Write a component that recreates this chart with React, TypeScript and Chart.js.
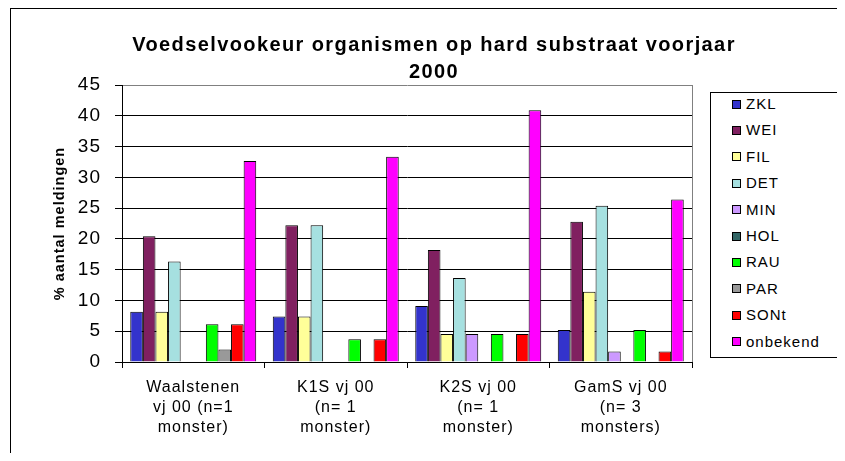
import React, { useEffect, useRef } from 'react';
import { Chart, registerables } from 'chart.js';

Chart.register(...registerables);

const titleLines = ['Voedselvookeur organismen op hard substraat voorjaar', '2000'];
const yAxisTitle = '% aantal meldingen';

const categories: string[][] = [
  ['Waalstenen', 'vj 00 (n=1', 'monster)'],
  ['K1S vj 00', '(n= 1', 'monster)'],
  ['K2S vj 00', '(n= 1', 'monster)'],
  ['GamS vj 00', '(n= 3', 'monsters)'],
];

const seriesNames = ['ZKL', 'WEI', 'FIL', 'DET', 'MIN', 'HOL', 'RAU', 'PAR', 'SONt', 'onbekend'];
const seriesColors = ['#3333CC', '#802060', '#FFFF99', '#A6E0E0', '#CC99FF', '#336666', '#00FF00', '#999999', '#FF0000', '#FF00FF'];

const ZKL = [8.16, 7.41, 9.09, 5.2];
const WEI = [20.41, 22.22, 18.18, 22.8];
const FIL = [8.16, 7.41, 4.55, 11.4];
const DET = [16.33, 22.22, 13.64, 25.4];
const MIN = [0, 0, 4.55, 1.7];
const HOL = [0, 0, 0, 0];
const RAU = [6.12, 3.7, 4.55, 5.2];
const PAR = [2.04, 0, 0, 0];
const SONt = [6.12, 3.7, 4.55, 1.7];
const onbekend = [32.65, 33.33, 40.91, 26.4];

const seriesValues = [ZKL, WEI, FIL, DET, MIN, HOL, RAU, PAR, SONt, onbekend];

const yMin = 0;
const yMax = 45;
const yStep = 5;

const FONT = 'Arial, "Liberation Sans", Helvetica, sans-serif';

const spacingPlugin = {
  id: 'spacing',
  beforeUpdate(chart: any) {
    chart.ctx.letterSpacing = '1px';
  },
  beforeDraw(chart: any) {
    chart.ctx.letterSpacing = '1px';
  },
};

const plotBorderPlugin = {
  id: 'plotBorder',
  beforeDatasetsDraw(chart: any) {
    const { ctx, chartArea } = chart;
    const x = Math.round(chartArea.right) + 0.5;
    ctx.save();
    ctx.strokeStyle = '#808080';
    ctx.lineWidth = 1;
    ctx.beginPath();
    ctx.moveTo(x, Math.round(chartArea.top));
    ctx.lineTo(x, Math.round(chartArea.bottom));
    ctx.stroke();
    ctx.restore();
  },
};

export default function App() {
  const canvasRef = useRef<HTMLCanvasElement | null>(null);

  useEffect(() => {
    document.documentElement.style.overflow = 'hidden';
    document.body.style.overflow = 'hidden';
    if (!canvasRef.current) return;
    const chart = new Chart(canvasRef.current, {
      type: 'bar',
      data: {
        labels: categories,
        datasets: seriesNames.map((name, i) => ({
          label: name,
          data: seriesValues[i],
          backgroundColor: seriesColors[i],
          borderColor: '#000000',
          borderWidth: 1,
          categoryPercentage: 0.884,
          barPercentage: 1,
        })),
      },
      options: {
        animation: false,
        responsive: false,
        maintainAspectRatio: false,
        layout: { padding: { top: 77, left: 0, right: 153, bottom: 0 } },
        plugins: {
          legend: { display: false },
          title: { display: false },
          tooltip: { enabled: false },
        },
        scales: {
          x: {
            grid: {
              display: true,
              drawOnChartArea: false,
              drawTicks: true,
              tickLength: 6,
              offset: true,
              color: '#000000',
            },
            border: { display: true, color: '#000000', width: 1 },
            ticks: {
              color: '#000000',
              font: { family: FONT, size: 16, lineHeight: '20px' } as any,
              padding: 9.5,
              maxRotation: 0,
              minRotation: 0,
              autoSkip: false,
            },
            afterFit(scale: any) {
              scale.height = 99;
            },
          },
          y: {
            min: yMin,
            max: yMax,
            ticks: {
              stepSize: yStep,
              color: '#000000',
              font: { family: FONT, size: 19 },
              padding: 14,
            },
            grid: {
              color: (c: any) => (c.tick && c.tick.value === yMax ? '#808080' : '#000000'),
              tickColor: '#000000',
              tickLength: 7,
              lineWidth: 1,
            },
            border: { display: true, color: '#000000', width: 1 },
            title: {
              display: true,
              text: yAxisTitle,
              color: '#000000',
              font: { family: FONT, size: 14.5, weight: 'bold' },
              padding: { top: 43, bottom: 0 },
            },
            afterFit(scale: any) {
              scale.width = 114;
            },
          },
        },
      },
      plugins: [spacingPlugin, plotBorderPlugin],
    } as any);
    return () => chart.destroy();
  }, []);

  const legendItemH = 26.4;

  return (
    <div style={{ position: 'relative', width: 829, height: 445 }}>
      <div style={{ position: 'absolute', left: 2, top: 0, width: 835, height: 1, background: '#000' }} />
      <div style={{ position: 'absolute', left: 2, top: 0, width: 1, height: 453, background: '#000' }} />
      <div style={{ position: 'absolute', left: 2, top: -5, width: 13, height: 2, background: '#222' }} />
      <canvas ref={canvasRef} width={837} height={453} style={{ position: 'absolute', left: 0, top: 0 }} />
      <div
        style={{
          position: 'absolute',
          left: 434 - 8 - 320,
          top: 31 - 8,
          width: 640,
          textAlign: 'center',
          fontFamily: FONT,
          fontWeight: 'bold',
          fontSize: 20,
          letterSpacing: '1.4px',
          lineHeight: '27px',
          color: '#000',
          whiteSpace: 'nowrap',
        }}
      >
        {titleLines.map((t, i) => (
          <div key={i}>{t}</div>
        ))}
      </div>
      <div
        style={{
          position: 'absolute',
          left: 710 - 8,
          top: 92 - 8,
          width: 130,
          height: 266,
          boxSizing: 'border-box',
          border: '1px solid #000',
          background: '#fff',
        }}
      >
        {seriesNames.map((name, i) => (
          <div
            key={name}
            style={{
              position: 'absolute',
              left: 21,
              top: 3 + i * legendItemH,
              height: 16,
              display: 'flex',
              alignItems: 'center',
              fontFamily: FONT,
              fontSize: 15,
              letterSpacing: '1px',
              lineHeight: '16px',
              color: '#000',
              whiteSpace: 'nowrap',
            }}
          >
            <span
              style={{
                display: 'inline-block',
                width: 9,
                height: 9,
                boxSizing: 'border-box',
                border: '1px solid #000',
                background: seriesColors[i],
                marginRight: 5,
              }}
            />
            <span>{name}</span>
          </div>
        ))}
      </div>
    </div>
  );
}
